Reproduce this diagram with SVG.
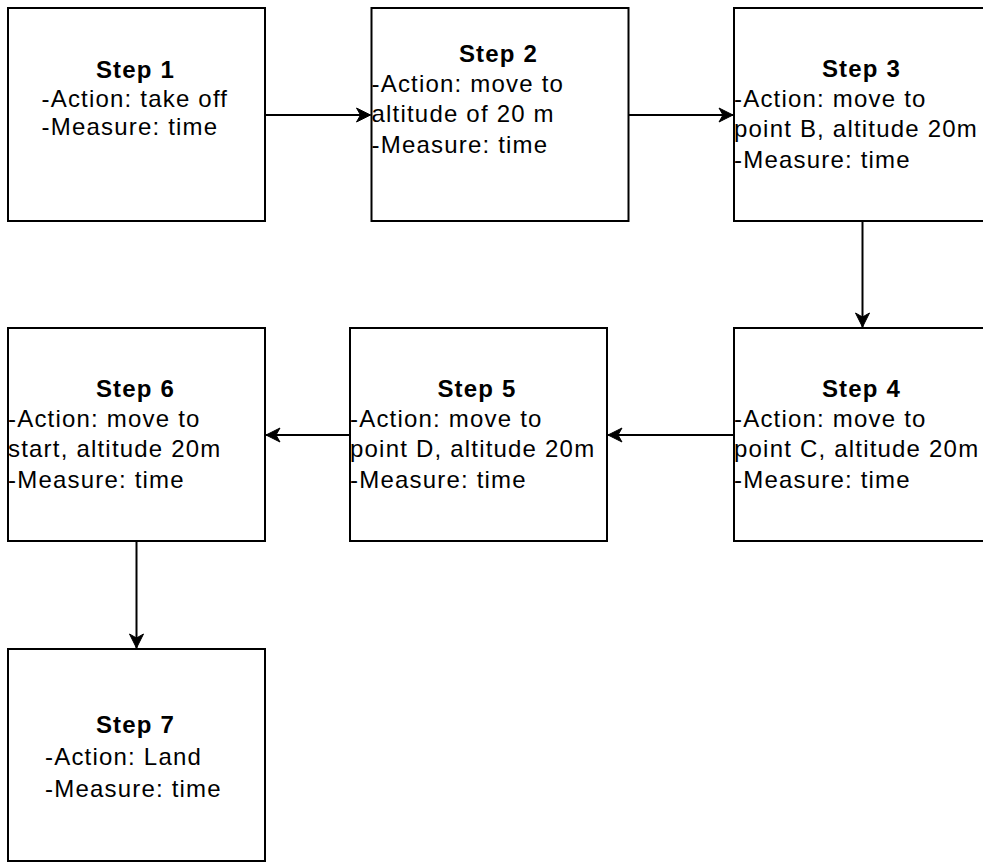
<svg xmlns="http://www.w3.org/2000/svg" width="983" height="862" viewBox="0 0 983 862">
  <style>
    .box { fill: #fff; stroke: #000; stroke-width: 2; }
    .edge { fill: none; stroke: #000; stroke-width: 2; }
    text { font-family: "Liberation Sans", Arial, Helvetica, sans-serif; font-size: 24px; letter-spacing: 1.2px; fill: #000; }
    .title { font-weight: bold; text-anchor: middle; }
  </style>
  <defs>
    <marker id="arrow" viewBox="-15 -8 16 16" refX="0" refY="0" markerWidth="16" markerHeight="16" markerUnits="userSpaceOnUse" orient="auto">
      <path d="M0,0 L-14,-7 L-10,0 L-14,7 Z" fill="#000" stroke="#000" stroke-width="1"/>
    </marker>
  </defs>
  <rect width="983" height="862" fill="#fff"/>

  <!-- connectors -->
  <g id="connectors">
    <path class="edge" d="M265,115 L370.5,115" marker-end="url(#arrow)"/>
    <path class="edge" d="M628.5,115 L733,115" marker-end="url(#arrow)"/>
    <path class="edge" d="M862.5,221 L862.5,327" marker-end="url(#arrow)"/>
    <path class="edge" d="M734,435 L608,435" marker-end="url(#arrow)"/>
    <path class="edge" d="M350,435 L266,435" marker-end="url(#arrow)"/>
    <path class="edge" d="M136.5,541 L136.5,648" marker-end="url(#arrow)"/>
  </g>

  <!-- step 1 -->
  <g id="step1">
    <rect class="box" x="8" y="8" width="257" height="213"/>
    <text class="title" x="135.5" y="77.5">Step 1</text>
    <text x="41.5" y="106.5">-Action: take off</text>
    <text x="41.5" y="135">-Measure: time</text>
  </g>

  <!-- step 2 -->
  <g id="step2">
    <rect class="box" x="371.5" y="8" width="257" height="213"/>
    <text class="title" x="498.5" y="61.7">Step 2</text>
    <text x="371.5" y="91.7">-Action: move to</text>
    <text x="371.5" y="122.3">altitude of 20 m</text>
    <text x="371.5" y="153.3">-Measure: time</text>
  </g>

  <!-- step 3 -->
  <g id="step3">
    <rect class="box" x="734" y="8" width="257" height="213"/>
    <text class="title" x="861.5" y="76.7">Step 3</text>
    <text x="734" y="106.7">-Action: move to</text>
    <text x="734" y="137.3">point B, altitude 20m</text>
    <text x="734" y="168.3">-Measure: time</text>
  </g>

  <!-- step 4 -->
  <g id="step4">
    <rect class="box" x="734" y="328" width="257" height="213"/>
    <text class="title" x="861.5" y="396.7">Step 4</text>
    <text x="734" y="426.7">-Action: move to</text>
    <text x="734" y="457.3">point C, altitude 20m</text>
    <text x="734" y="488.3">-Measure: time</text>
  </g>

  <!-- step 5 -->
  <g id="step5">
    <rect class="box" x="350" y="328" width="257" height="213"/>
    <text class="title" x="477" y="396.7">Step 5</text>
    <text x="350" y="426.7">-Action: move to</text>
    <text x="350" y="457.3">point D, altitude 20m</text>
    <text x="350" y="488.3">-Measure: time</text>
  </g>

  <!-- step 6 -->
  <g id="step6">
    <rect class="box" x="8" y="328" width="257" height="213"/>
    <text class="title" x="135.5" y="396.7">Step 6</text>
    <text x="8" y="426.7">-Action: move to</text>
    <text x="8" y="457.3">start, altitude 20m</text>
    <text x="8" y="488.3">-Measure: time</text>
  </g>

  <!-- step 7 -->
  <g id="step7">
    <rect class="box" x="8" y="649" width="257" height="212"/>
    <text class="title" x="135.5" y="733.3">Step 7</text>
    <text x="45" y="765">-Action: Land</text>
    <text x="45" y="796.5">-Measure: time</text>
  </g>
</svg>
